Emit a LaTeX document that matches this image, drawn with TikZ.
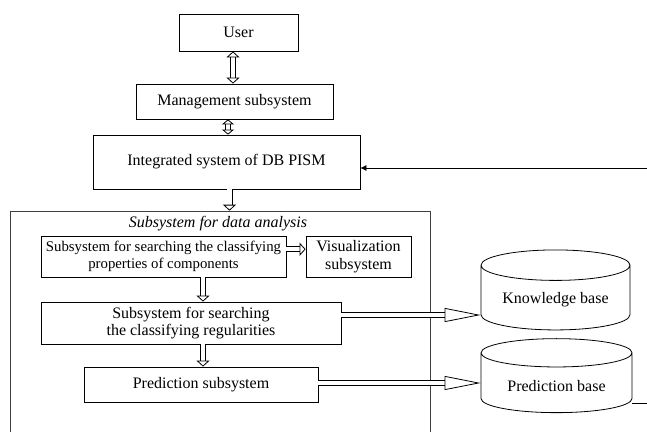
\documentclass[tikz,border=0pt]{standalone}
\usepackage{fontspec}
\setmainfont{Liberation Serif}
\usetikzlibrary{arrows.meta,shapes.geometric,positioning}
\tikzset{
	block/.style={
		rectangle,
		line width=0.8pt,
		draw=black,
		fill=white,
		align=center,
		inner sep=2pt,
		font=\fontsize{16}{17.5}\selectfont
	},
	base/.style={
		cylinder,
		shape border rotate=90,
		aspect=0.27,
		line width=0.8pt,
		draw=black,
		fill=white,
		font=\fontsize{16}{17.5}\selectfont
	},
	frame/.style={
		rectangle,
		draw=black!75,
		line width=0.6pt
	},
	hollow/.style={
		line width=0.8pt,
		double=white,
		double distance=4.4pt
	},
	arrow/.style={
		draw=black,
		line width=0.6pt,
		-{Latex[length=6pt,width=6pt]}
	},
}

\begin{document}
\begin{tikzpicture}[x=1pt,y=-1pt]
	\useasboundingbox (0,0) rectangle (647,431);
	\clip (0,0) rectangle (647,431);

	% upper chain
	\node [block,minimum width=119pt,minimum height=37pt] (user) at (238.5,32.5) {User};
	\node [block,minimum width=197pt,minimum height=35pt] (mgmt) at (234.5,101.5) {Management subsystem};
	\node [block,minimum width=267pt,minimum height=54pt] (isdb) at (226.5,162) {Integrated system of DB PISM};

	% analysis frame and its parts
	\node [frame,minimum width=420pt,minimum height=260pt] (analysis) at (220,341) {};
	\node [font=\fontsize{16}{17.5}\selectfont\itshape] (title) at (218,224) {Subsystem for data analysis};
	\node [block,minimum width=245pt,minimum height=41pt,font=\fontsize{14.8}{17.5}\selectfont] (props) at (163.5,256.5) {Subsystem for searching the classifying\\properties of components};
	\node [block,minimum width=105pt,minimum height=41pt] (visual) at (358.5,256.5) {Visualization\\subsystem};
	\node [block,minimum width=300pt,minimum height=42pt] (regul) at (191,323) {Subsystem for searching\\the classifying regularities};
	\node [block,minimum width=234pt,minimum height=35pt] (predsub) at (201,384.5) {Prediction subsystem};

	% bases
	\node [base,minimum width=149pt,minimum height=80pt] (kbase) at (555.5,300) {\raisebox{-8pt}{Knowledge base}};
	\node [base,minimum width=151pt,minimum height=74pt] (pbase) at (556.5,385) {\raisebox{-14pt}{Prediction base}};

	\coordinate (fbin) at (647,168);
	\coordinate (pout) at (647,403);

	% connections
	\draw [hollow,{Triangle[open,length=6pt,width=13pt]}-{Triangle[open,length=6pt,width=13pt]}]
		([xshift=-5.5pt]user.south) -- ([xshift=-1.5pt]mgmt.north);
	\draw [hollow,{Triangle[open,length=5pt,width=12pt]}-{Triangle[open,length=5pt,width=12pt]}]
		([xshift=-6.5pt]mgmt.south) -- ([xshift=1.5pt]isdb.north);
	\draw [hollow,-{Triangle[open,length=6pt,width=13pt]}]
		([xshift=3pt]isdb.south) -- ([xshift=3pt]isdb.south |- analysis.north);
	\draw [hollow,-{Triangle[open,length=6pt,width=13pt]}]
		([yshift=7.3pt]props.east) -- ([yshift=7.3pt]visual.west);
	\draw [hollow,-{Triangle[open,length=6pt,width=13pt]}]
		([xshift=39.5pt]props.south) -- ([xshift=39.5pt]props.south |- regul.north);
	\draw [hollow,-{Triangle[open,length=6pt,width=13pt]}]
		([xshift=12pt]regul.south) -- ([xshift=12pt]regul.south |- predsub.north);
	\draw [hollow,-{Triangle[open,length=36pt,width=14pt]}]
		([yshift=8pt]regul.east) -- ([yshift=8pt]regul.east -| kbase.west);
	\draw [hollow,-{Triangle[open,length=36pt,width=14pt]}]
		([yshift=1.5pt]predsub.east) -- ([yshift=1.5pt]predsub.east -| pbase.west);
	\draw [arrow] (fbin) -- ([yshift=-6pt]isdb.east);
	\draw [line width=0.6pt] (pout) -- (pout -| pbase.east);
\end{tikzpicture}
\end{document}
